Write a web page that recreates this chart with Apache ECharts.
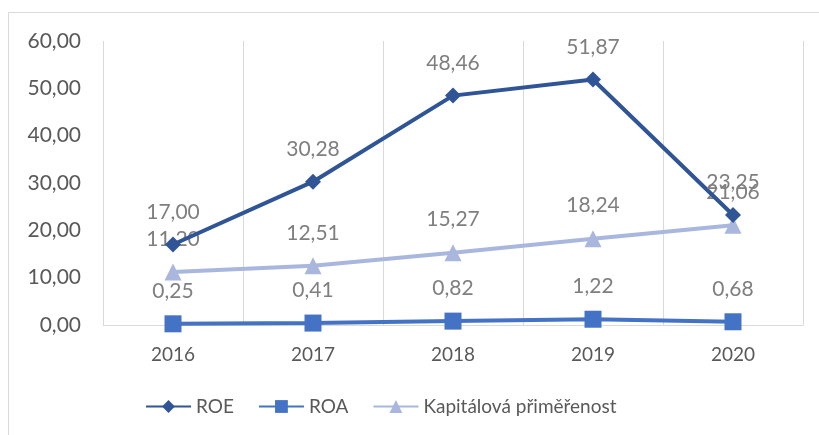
<!DOCTYPE html>
<html>
<head>
<meta charset="utf-8">
<script src="https://cdn.jsdelivr.net/npm/echarts@6/dist/echarts.min.js"></script>
<style>
  html, body { margin: 0; padding: 0; background: #fff; }
  #chart { width: 819px; height: 435px; }
</style>
</head>
<body>
<div id="chart"></div>
<script>
// Years on the category axis
const years = ['2016', '2017', '2018', '2019', '2020'];
// Indicator values (%)
const roe = [17.00, 30.28, 48.46, 51.87, 23.25];
const roa = [0.25, 0.41, 0.82, 1.22, 0.68];
const kapitalova = [11.20, 12.51, 15.27, 18.24, 21.06];
// Value axis range
const yMin = 0, yMax = 60, yStep = 10;

const FONT = 'Lato, "Noto Sans", sans-serif';
const fmt = v => v.toFixed(2).replace('.', ',');

const labelStyle = {
  show: true,
  position: 'top',
  distance: 14,
  color: '#7f7f7f',
  fontFamily: FONT,
  fontSize: 21,
  formatter: p => fmt(p.value)
};

const chart = echarts.init(document.getElementById('chart'), null, { renderer: 'canvas' });
chart.setOption({
  animation: false,
  backgroundColor: '#fff',
  graphic: [{
    type: 'rect',
    shape: { x: 8.5, y: 12.5, width: 900, height: 600 },
    style: { fill: 'none', stroke: '#d9d9d9', lineWidth: 1 },
    z: -1
  }],
  grid: { left: 103, right: 16, top: 41, bottom: 110, containLabel: false },
  xAxis: {
    type: 'category',
    data: years,
    boundaryGap: true,
    axisLine: { show: true, lineStyle: { color: '#d9d9d9', width: 1 } },
    axisTick: { show: false },
    splitLine: { show: true, lineStyle: { color: '#d9d9d9', width: 1 } },
    axisLabel: { color: '#595959', fontFamily: FONT, fontSize: 19, margin: 20 }
  },
  yAxis: {
    type: 'value',
    min: yMin, max: yMax, interval: yStep,
    axisLine: { show: false },
    axisTick: { show: false },
    splitLine: { show: false },
    axisLabel: { color: '#595959', fontFamily: FONT, fontSize: 21, margin: 22, formatter: v => fmt(v) }
  },
  legend: {
    left: 140,
    top: 392,
    itemWidth: 45,
    itemHeight: 16,
    itemGap: 24,
    textStyle: { color: '#595959', fontFamily: FONT, fontSize: 19 },
    data: ['ROE', 'ROA', 'Kapitálová přiměřenost']
  },
  series: [
    {
      name: 'ROE', type: 'line', data: roe,
      symbol: 'diamond', symbolSize: 16,
      lineStyle: { color: '#2f5597', width: 4 },
      itemStyle: { color: '#2f5597' },
      label: labelStyle, z: 3
    },
    {
      name: 'ROA', type: 'line', data: roa,
      symbol: 'rect', symbolSize: 17,
      lineStyle: { color: '#4472c4', width: 4 },
      itemStyle: { color: '#4472c4' },
      label: labelStyle, z: 2
    },
    {
      name: 'Kapitálová přiměřenost', type: 'line', data: kapitalova,
      symbol: 'triangle', symbolSize: 17,
      lineStyle: { color: '#a9b6de', width: 4 },
      itemStyle: { color: '#a9b6de' },
      label: labelStyle, z: 1
    }
  ]
});
</script>
</body>
</html>
